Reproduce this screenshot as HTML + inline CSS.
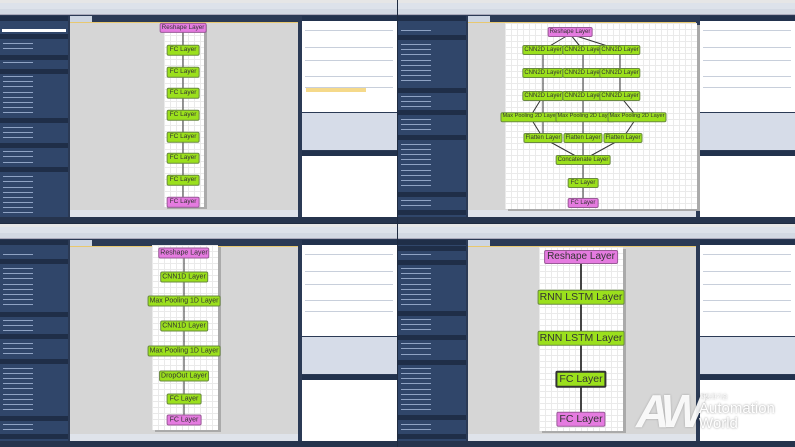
<!DOCTYPE html><html><head><meta charset="utf-8"><style>
*{margin:0;padding:0;box-sizing:border-box}
body{width:795px;height:447px;background:#1f2b40;position:relative;overflow:hidden;font-family:"Liberation Sans",sans-serif}
.q{position:absolute;width:397px;height:223px;background:#2b3a55;overflow:hidden}
.tb{position:absolute;left:0;top:0;width:397px;height:3px;background:#e6e6e6}
.mn{position:absolute;left:0;top:3px;width:397px;height:6px;background:#dde2ea}
.tl{position:absolute;left:0;top:9px;width:397px;height:6px;background:#d3d9e3;border-bottom:1px solid #aab}
.lp{position:absolute;left:0;top:16px;width:68px;height:201px;background:#30466a}
.sh{position:absolute;left:0;width:68px;height:5px;background:#1f2e48}
.it{position:absolute;left:3px;width:30px;height:1px;background:#8fa3c4}
.tab{position:absolute;left:70px;top:16px;width:22px;height:6px;background:#cdd5e2}
.cv{position:absolute;left:70px;top:22px;width:228px;height:188px;background:#d6d6d6;border-top:1px solid #e8c870}
.bs{position:absolute;left:70px;top:210px;width:228px;height:7px;background:#dfe3ea}
.rh{position:absolute;left:302px;width:95px;height:5px;background:#22324d}
.pr{position:absolute;left:302px;top:21px;width:95px;height:91px;background:#fff}
.ds{position:absolute;left:302px;top:113px;width:95px;height:37px;background:#d6dce8}
.lg{position:absolute;left:302px;top:156px;width:95px;height:61px;background:#fff}
.st{position:absolute;left:0;top:217px;width:397px;height:6px;background:#26344d}
.row{position:absolute;left:305px;width:88px;height:1px;background:#c8cfdb}
.wh{position:absolute;background:#fff;background-image:linear-gradient(#eaeaea 1px,transparent 1px),linear-gradient(90deg,#eaeaea 1px,transparent 1px);background-size:6px 6px;box-shadow:3px 2px 0 #aaa}
.n{position:absolute;transform:translate(-50%,-50%);background:#9be01c;border:1px solid #6a8a40;border-radius:2px;color:#333;white-space:nowrap;text-align:center;line-height:1}
.p{background:#e57be0;border-color:#9a5a98}
svg{position:absolute;left:0;top:0}
</style></head><body>

<!-- TL -->
<div class="q" style="left:0;top:0">
<div class="tb"></div><div class="mn"></div><div class="tl"></div>
<div class="lp"></div>
<div class="sh" style="top:16px"></div><div class="sh" style="top:34px"></div><div class="sh" style="top:55px"></div><div class="sh" style="top:69px"></div><div class="sh" style="top:118px"></div><div class="sh" style="top:143px"></div><div class="sh" style="top:167px"></div>
<div style="position:absolute;left:2px;top:29px;width:64px;height:3px;background:#fff"></div>
<div class="it" style="top:43px"></div><div class="it" style="top:48px"></div><div class="it" style="top:62px"></div><div class="it" style="top:76px"></div><div class="it" style="top:81px"></div><div class="it" style="top:86px"></div><div class="it" style="top:92px"></div><div class="it" style="top:97px"></div><div class="it" style="top:102px"></div><div class="it" style="top:107px"></div><div class="it" style="top:112px"></div><div class="it" style="top:127px"></div><div class="it" style="top:132px"></div><div class="it" style="top:137px"></div><div class="it" style="top:151px"></div><div class="it" style="top:156px"></div><div class="it" style="top:162px"></div><div class="it" style="top:176px"></div><div class="it" style="top:181px"></div><div class="it" style="top:187px"></div><div class="it" style="top:192px"></div><div class="it" style="top:197px"></div><div class="it" style="top:202px"></div><div class="it" style="top:207px"></div><div class="it" style="top:212px"></div>
<div class="tab"></div><div class="cv"></div><div class="bs"></div>
<div class="rh" style="top:16px"></div><div class="pr"></div><div class="ds"></div><div class="rh" style="top:151px"></div><div class="lg"></div><div class="st"></div>
<div class="row" style="top:30px"></div><div class="row" style="top:47px"></div><div class="row" style="top:60px"></div><div class="row" style="top:76px"></div><div class="row" style="top:87px"></div>
<div style="position:absolute;left:306px;top:88px;width:60px;height:4px;background:#f5d98a"></div>
<div class="wh" style="left:164px;top:23px;width:40px;height:184px"></div>
<svg width="397" height="223"><line x1="183" y1="30" x2="183" y2="200" stroke="#333" stroke-width="1"/></svg>
<div class="n p" style="left:183px;top:28px;font-size:6.3px;padding:1px 1px">Reshape Layer</div>
<div class="n" style="left:183px;top:50px;font-size:6.5px;padding:1px 2px">FC Layer</div>
<div class="n" style="left:183px;top:72px;font-size:6.5px;padding:1px 2px">FC Layer</div>
<div class="n" style="left:183px;top:93px;font-size:6.5px;padding:1px 2px">FC Layer</div>
<div class="n" style="left:183px;top:115px;font-size:6.5px;padding:1px 2px">FC Layer</div>
<div class="n" style="left:183px;top:137px;font-size:6.5px;padding:1px 2px">FC Layer</div>
<div class="n" style="left:183px;top:158px;font-size:6.5px;padding:1px 2px">FC Layer</div>
<div class="n" style="left:183px;top:180px;font-size:6.5px;padding:1px 2px">FC Layer</div>
<div class="n p" style="left:183px;top:202px;font-size:6.5px;padding:1px 2px">FC Layer</div>
</div>

<!-- TR -->
<div class="q" style="left:398px;top:0">
<div class="tb"></div><div class="mn"></div><div class="tl"></div>
<div class="lp"></div>
<div class="sh" style="top:16px"></div><div class="sh" style="top:35px"></div><div class="sh" style="top:88px"></div><div class="sh" style="top:110px"></div><div class="sh" style="top:135px"></div><div class="sh" style="top:192px"></div><div class="sh" style="top:210px"></div>
<div class="it" style="top:30px"></div><div class="it" style="top:44px"></div><div class="it" style="top:49px"></div><div class="it" style="top:54px"></div><div class="it" style="top:60px"></div><div class="it" style="top:65px"></div><div class="it" style="top:70px"></div><div class="it" style="top:75px"></div><div class="it" style="top:80px"></div><div class="it" style="top:96px"></div><div class="it" style="top:101px"></div><div class="it" style="top:106px"></div><div class="it" style="top:119px"></div><div class="it" style="top:124px"></div><div class="it" style="top:129px"></div><div class="it" style="top:144px"></div><div class="it" style="top:149px"></div><div class="it" style="top:154px"></div><div class="it" style="top:159px"></div><div class="it" style="top:164px"></div><div class="it" style="top:170px"></div><div class="it" style="top:175px"></div><div class="it" style="top:180px"></div><div class="it" style="top:185px"></div><div class="it" style="top:200px"></div><div class="it" style="top:205px"></div>
<div class="tab"></div><div class="cv"></div><div class="bs"></div>
<div class="rh" style="top:16px"></div><div class="pr"></div><div class="ds"></div><div class="rh" style="top:151px"></div><div class="lg"></div><div class="st"></div>
<div class="row" style="top:30px"></div><div class="row" style="top:47px"></div><div class="row" style="top:60px"></div><div class="row" style="top:76px"></div><div class="row" style="top:87px"></div>
<div class="wh" style="left:107px;top:23px;width:192px;height:186px"></div>
<svg width="397" height="223" stroke="#333" stroke-width="1" fill="none">
<path d="M172 34L145 50M172 34L185 50M172 34L222 50"/>
<path d="M145 50V138M185 50V138M222 50V96L239 117L225 138M145 96L132 117L145 138M185 96V138"/>
<path d="M145 138L185 160M185 138V160M225 138L185 160M185 160V203"/>
</svg>
<div class="n p" style="left:172px;top:32px;font-size:6px;padding:1px 1px">Reshape Layer</div>
<div class="n" style="left:145px;top:50px;font-size:6px;padding:1px 1px">CNN2D Layer</div><div class="n" style="left:185px;top:50px;font-size:6px;padding:1px 1px">CNN2D Layer</div><div class="n" style="left:222px;top:50px;font-size:6px;padding:1px 1px">CNN2D Layer</div>
<div class="n" style="left:145px;top:73px;font-size:6px;padding:1px 1px">CNN2D Layer</div><div class="n" style="left:185px;top:73px;font-size:6px;padding:1px 1px">CNN2D Layer</div><div class="n" style="left:222px;top:73px;font-size:6px;padding:1px 1px">CNN2D Layer</div>
<div class="n" style="left:145px;top:96px;font-size:6px;padding:1px 1px">CNN2D Layer</div><div class="n" style="left:185px;top:96px;font-size:6px;padding:1px 1px">CNN2D Layer</div><div class="n" style="left:222px;top:96px;font-size:6px;padding:1px 1px">CNN2D Layer</div>
<div class="n" style="left:132px;top:117px;font-size:5.6px;padding:1px 1px">Max Pooling 2D Layer</div><div class="n" style="left:187px;top:117px;font-size:5.6px;padding:1px 1px">Max Pooling 2D Layer</div><div class="n" style="left:239px;top:117px;font-size:5.6px;padding:1px 1px">Max Pooling 2D Layer</div>
<div class="n" style="left:145px;top:138px;font-size:6px;padding:1px 1px">Flatten Layer</div><div class="n" style="left:185px;top:138px;font-size:6px;padding:1px 1px">Flatten Layer</div><div class="n" style="left:225px;top:138px;font-size:6px;padding:1px 1px">Flatten Layer</div>
<div class="n" style="left:185px;top:160px;font-size:6px;padding:1px 1px">Concatenate Layer</div>
<div class="n" style="left:185px;top:183px;font-size:6px;padding:1px 2px">FC Layer</div>
<div class="n p" style="left:185px;top:203px;font-size:6px;padding:1px 2px">FC Layer</div>
</div>

<!-- BL -->
<div class="q" style="left:0;top:224px">
<div class="tb"></div><div class="mn"></div><div class="tl"></div>
<div class="lp"></div>
<div class="sh" style="top:16px"></div><div class="sh" style="top:35px"></div><div class="sh" style="top:88px"></div><div class="sh" style="top:110px"></div><div class="sh" style="top:135px"></div><div class="sh" style="top:192px"></div><div class="sh" style="top:210px"></div>
<div class="it" style="top:30px"></div><div class="it" style="top:44px"></div><div class="it" style="top:49px"></div><div class="it" style="top:54px"></div><div class="it" style="top:60px"></div><div class="it" style="top:65px"></div><div class="it" style="top:70px"></div><div class="it" style="top:75px"></div><div class="it" style="top:80px"></div><div class="it" style="top:96px"></div><div class="it" style="top:101px"></div><div class="it" style="top:106px"></div><div class="it" style="top:119px"></div><div class="it" style="top:124px"></div><div class="it" style="top:129px"></div><div class="it" style="top:144px"></div><div class="it" style="top:149px"></div><div class="it" style="top:154px"></div><div class="it" style="top:159px"></div><div class="it" style="top:164px"></div><div class="it" style="top:170px"></div><div class="it" style="top:175px"></div><div class="it" style="top:180px"></div><div class="it" style="top:185px"></div><div class="it" style="top:200px"></div><div class="it" style="top:205px"></div>
<div class="tab"></div><div class="cv"></div><div class="bs"></div>
<div class="rh" style="top:16px"></div><div class="pr"></div><div class="ds"></div><div class="rh" style="top:151px"></div><div class="lg"></div><div class="st"></div>
<div class="row" style="top:30px"></div><div class="row" style="top:47px"></div><div class="row" style="top:60px"></div><div class="row" style="top:76px"></div><div class="row" style="top:87px"></div>
<div class="wh" style="left:152px;top:21px;width:66px;height:185px"></div>
<svg width="397" height="223"><line x1="184" y1="30" x2="184" y2="195" stroke="#333" stroke-width="1"/></svg>
<div class="n p" style="left:184px;top:29px;font-size:7px;padding:1px 1px">Reshape Layer</div>
<div class="n" style="left:184px;top:53px;font-size:7px;padding:1px 1px">CNN1D Layer</div>
<div class="n" style="left:184px;top:77px;font-size:7px;padding:1px 1px">Max Pooling 1D Layer</div>
<div class="n" style="left:184px;top:102px;font-size:7px;padding:1px 1px">CNN1D Layer</div>
<div class="n" style="left:184px;top:127px;font-size:7px;padding:1px 1px">Max Pooling 1D Layer</div>
<div class="n" style="left:184px;top:152px;font-size:7px;padding:1px 1px">DropOut Layer</div>
<div class="n" style="left:184px;top:175px;font-size:7px;padding:1px 2px">FC Layer</div>
<div class="n p" style="left:184px;top:196px;font-size:7px;padding:1px 2px">FC Layer</div>
</div>

<!-- BR -->
<div class="q" style="left:398px;top:224px">
<div class="tb"></div><div class="mn"></div><div class="tl"></div>
<div class="lp"></div>
<div class="sh" style="top:16px"></div><div class="sh" style="top:22px"></div><div class="sh" style="top:36px"></div><div class="sh" style="top:87px"></div><div class="sh" style="top:111px"></div><div class="sh" style="top:136px"></div><div class="sh" style="top:191px"></div><div class="sh" style="top:210px"></div>
<div class="it" style="top:30px"></div><div class="it" style="top:44px"></div><div class="it" style="top:49px"></div><div class="it" style="top:54px"></div><div class="it" style="top:60px"></div><div class="it" style="top:65px"></div><div class="it" style="top:70px"></div><div class="it" style="top:75px"></div><div class="it" style="top:80px"></div><div class="it" style="top:95px"></div><div class="it" style="top:100px"></div><div class="it" style="top:105px"></div><div class="it" style="top:119px"></div><div class="it" style="top:124px"></div><div class="it" style="top:130px"></div><div class="it" style="top:144px"></div><div class="it" style="top:149px"></div><div class="it" style="top:154px"></div><div class="it" style="top:159px"></div><div class="it" style="top:165px"></div><div class="it" style="top:170px"></div><div class="it" style="top:175px"></div><div class="it" style="top:180px"></div><div class="it" style="top:185px"></div><div class="it" style="top:200px"></div><div class="it" style="top:205px"></div>
<div class="tab"></div><div class="cv"></div><div class="bs"></div>
<div class="rh" style="top:16px"></div><div class="pr"></div><div class="ds"></div><div class="rh" style="top:151px"></div><div class="lg"></div><div class="st"></div>
<div class="row" style="top:30px"></div><div class="row" style="top:47px"></div><div class="row" style="top:60px"></div><div class="row" style="top:76px"></div><div class="row" style="top:87px"></div>
<div class="wh" style="left:141px;top:23px;width:84px;height:184px"></div>
<svg width="397" height="223"><line x1="183" y1="38" x2="183" y2="190" stroke="#444" stroke-width="2"/></svg>
<div class="n p" style="left:183px;top:33px;font-size:10px;padding:1px 2px">Reshape Layer</div>
<div class="n" style="left:183px;top:73px;font-size:10.5px;padding:1px 1px">RNN LSTM Layer</div>
<div class="n" style="left:183px;top:114px;font-size:10.5px;padding:1px 1px">RNN LSTM Layer</div>
<div class="n" style="left:183px;top:155px;font-size:10.5px;padding:1px 2px;border:2px solid #333">FC Layer</div>
<div class="n p" style="left:183px;top:195px;font-size:10.5px;padding:1px 2px">FC Layer</div>
</div>
<div style="position:absolute;left:636px;top:388px;color:rgba(255,255,255,.92);font-size:46px;font-weight:bold;font-style:italic;letter-spacing:-6px;line-height:1;text-shadow:0 0 2px rgba(0,0,0,.25)">AW</div>
<div style="position:absolute;left:700px;top:392px;color:#fff;font-size:6px;text-shadow:0 0 2px rgba(0,0,0,.4);font-family:'Liberation Sans','Noto Sans CJK KR',sans-serif">자동화기술</div>
<div style="position:absolute;left:699px;top:401px;color:#fff;font-size:15px;line-height:15px;text-shadow:0 0 2px rgba(0,0,0,.45)">Automation<br>World</div>
</body></html>
